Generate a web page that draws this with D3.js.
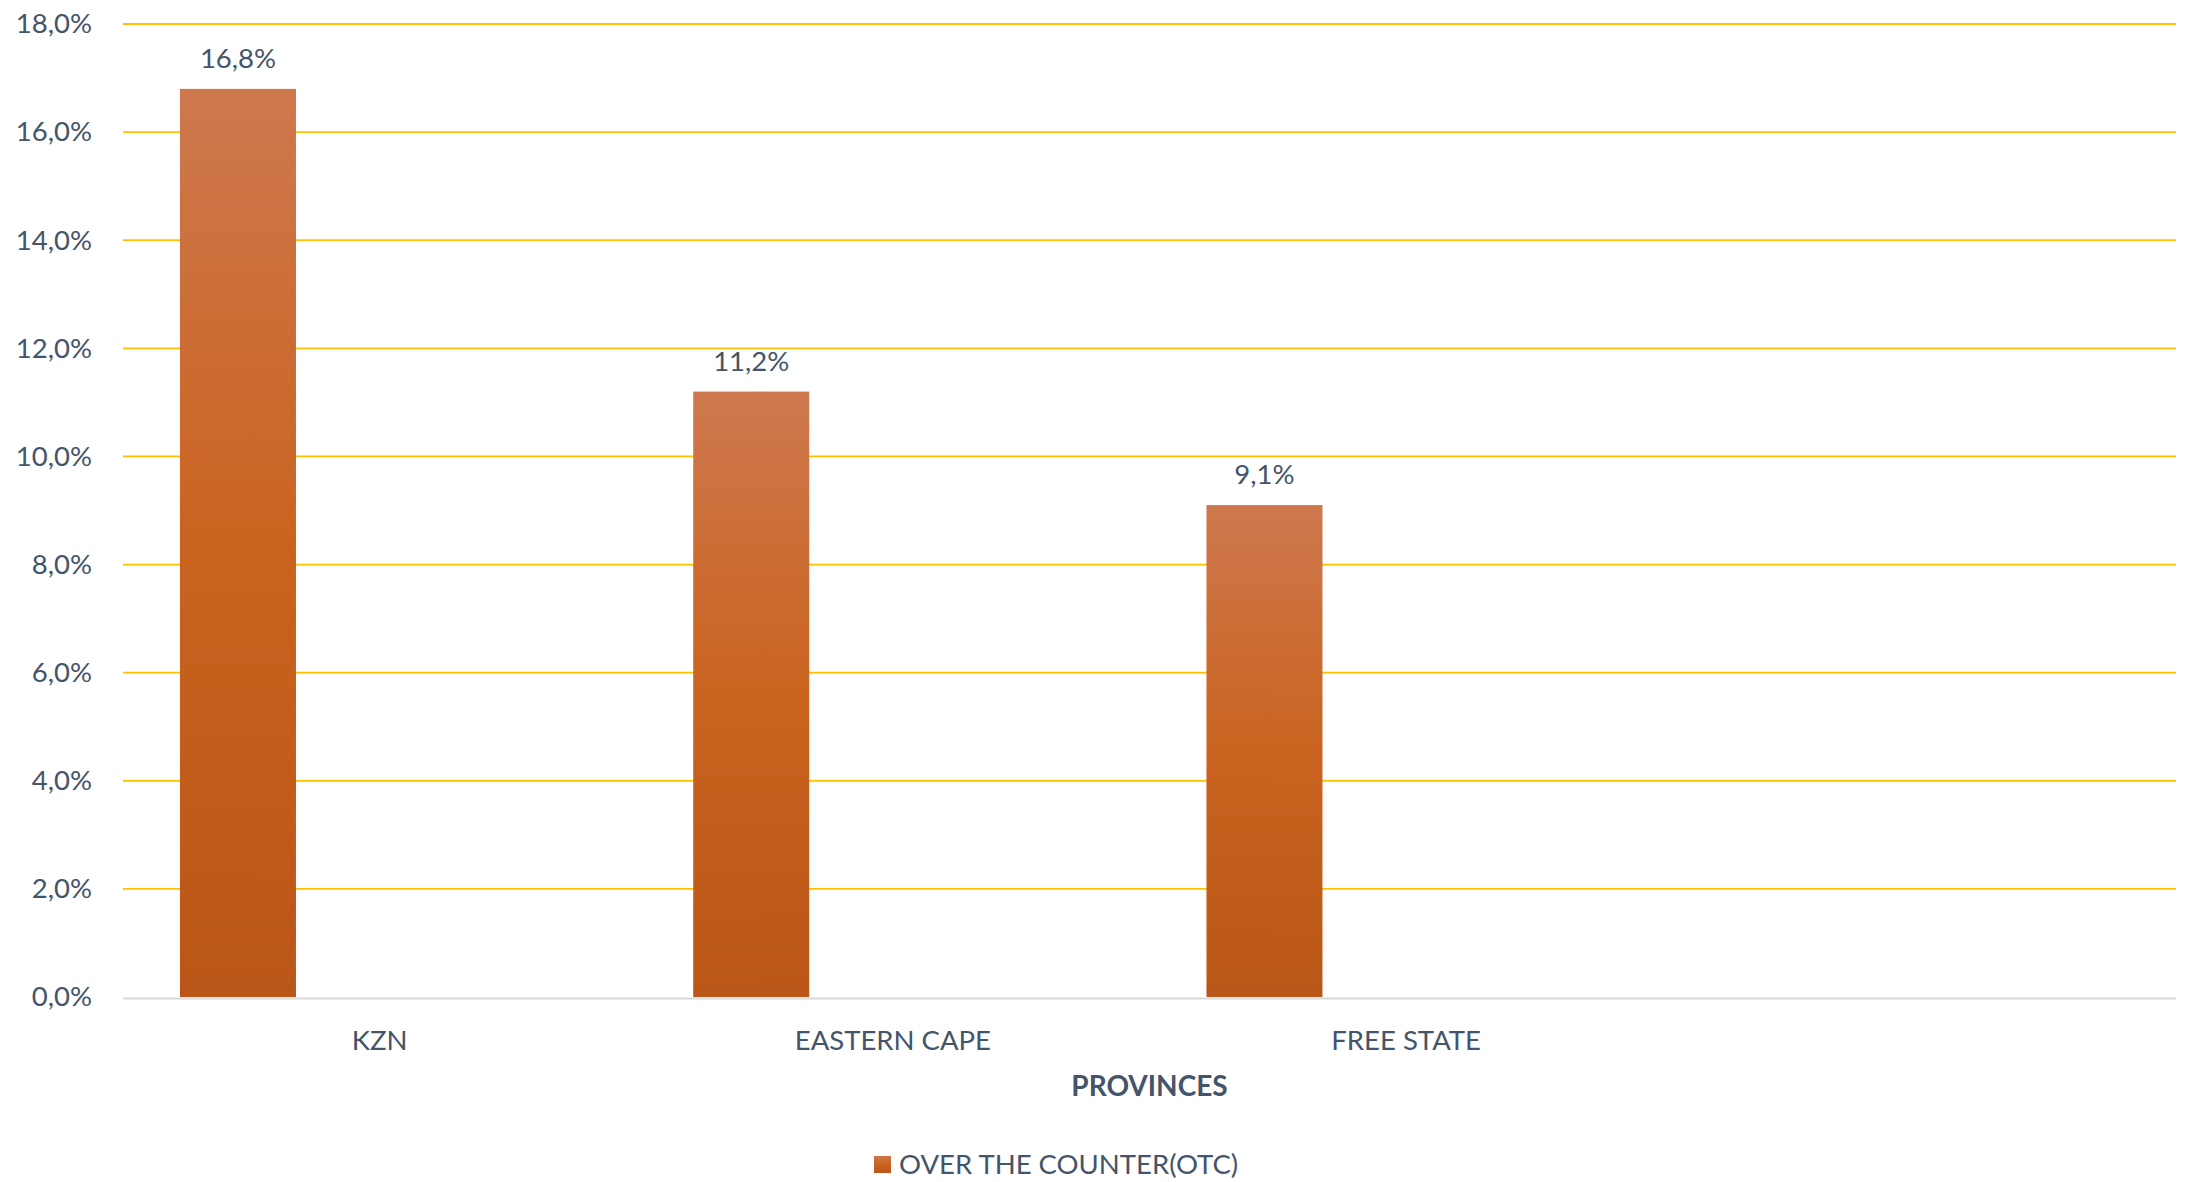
<!DOCTYPE html>
<html><head><meta charset="utf-8">
<script src="https://cdn.jsdelivr.net/npm/d3@7"></script>
<style>body{margin:0;background:#fff;} svg{display:block;}</style>
</head><body>
<svg id="chart" width="2188" height="1182"></svg>
<script>
const categories = ["KZN", "EASTERN CAPE", "FREE STATE", ""];
const otcValues = [16.8, 11.2, 9.1, null];
const seriesName = "OVER THE COUNTER(OTC)";
const yTicks = [0, 2, 4, 6, 8, 10, 12, 14, 16, 18];
const xTitle = "PROVINCES";

const W = 2188, H = 1182;
const m = {left: 123, right: 12, top: 24, bottom: 185};
const font = "Lato, 'Open Sans', sans-serif";
const fs = 27.5;
const txt = "#44546A";
const svg = d3.select("#chart");

const defs = svg.append("defs");
const grad = defs.append("linearGradient").attr("id","barGrad")
  .attr("x1",0).attr("y1",0).attr("x2",0).attr("y2",1);
grad.append("stop").attr("offset","0%").attr("stop-color","#CE784E");
grad.append("stop").attr("offset","50%").attr("stop-color","#CA631F");
grad.append("stop").attr("offset","100%").attr("stop-color","#BA5617");

const x = d3.scaleBand().domain(categories.map((c,i)=>i)).range([m.left, W - m.right]).padding(0);
const y = d3.scaleLinear().domain([0, 18]).range([H - m.bottom, m.top]);
const fmt = v => d3.format(".1f")(v).replace(".", ",") + "%";

// gridlines
svg.append("g").selectAll("line").data(yTicks.filter(t=>t>0)).join("line")
  .attr("x1", m.left).attr("x2", W - m.right)
  .attr("y1", d=>y(d)).attr("y2", d=>y(d))
  .attr("stroke", "#FFC000").attr("stroke-width", 1.8);

// y tick labels
const yAxis = d3.axisLeft(y).tickValues(yTicks).tickFormat(fmt).tickSize(0).tickPadding(31);
const ya = svg.append("g").attr("transform", `translate(${m.left},0)`).call(yAxis);
ya.select(".domain").remove();
ya.selectAll("text").attr("font-family", font).attr("font-size", fs).attr("fill", txt);

// bars
const barOff = 0.111, barW = 0.226;
const data = categories.map((c,i)=>({i, c, v: otcValues[i]})).filter(d=>d.v!=null);
svg.append("g").selectAll("rect").data(data).join("rect")
  .attr("x", d => x(d.i) + x.bandwidth()*barOff)
  .attr("width", x.bandwidth()*barW)
  .attr("y", d => y(d.v))
  .attr("height", d => y(0) - y(d.v))
  .attr("fill", "url(#barGrad)");

// value labels
svg.append("g").selectAll("text").data(data).join("text")
  .attr("x", d => x(d.i) + x.bandwidth()*(barOff + barW/2))
  .attr("y", d => y(d.v) - 21)
  .attr("text-anchor", "middle")
  .attr("font-family", font).attr("font-size", fs).attr("fill", txt)
  .text(d => fmt(d.v));

// x axis line
svg.append("line").attr("x1", m.left).attr("x2", W - m.right)
  .attr("y1", y(0)+1.5).attr("y2", y(0)+1.5)
  .attr("stroke", "#D9D9D9").attr("stroke-width", 2);

// category labels
const xAxis = d3.axisBottom(x).tickFormat(i => categories[i]).tickSize(0).tickPadding(33);
const xa = svg.append("g").attr("transform", `translate(0,${y(0)})`).call(xAxis);
xa.select(".domain").remove();
xa.selectAll("text").attr("font-family", font).attr("font-size", fs).attr("fill", txt);

// axis title
svg.append("text").attr("x", (m.left + W - m.right)/2).attr("y", 1096)
  .attr("text-anchor","middle").attr("font-family", font).attr("font-size", 28)
  .attr("font-weight","bold").attr("fill", txt).text(xTitle);

// legend
const lg = svg.append("g");
lg.append("rect").attr("x", 874).attr("y", 1156).attr("width", 17).attr("height", 17).attr("fill","url(#barGrad)");
lg.append("text").attr("x", 899).attr("y", 1174).attr("font-family", font).attr("font-size", fs)
  .attr("fill", txt).text(seriesName);
</script>
</body></html>
